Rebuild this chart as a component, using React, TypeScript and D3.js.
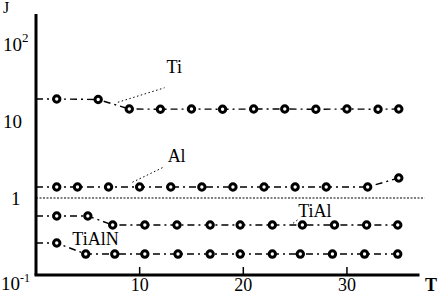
import * as React from 'react';
import {useEffect, useRef} from 'react';
import * as d3 from 'd3';

const width = 439;
const height = 295;

// time values (T) for each series
const tiT = [2, 6, 9, 12, 15, 18, 21, 24, 27, 30, 33, 35];
const tiJ = [19.3, 19, 14.3, 14.2, 14.3, 14.2, 14.3, 14.3, 14.2, 14.3, 14.2, 14.3];

const alT = [2, 4, 7, 10, 13, 16, 19, 22, 25, 28, 32, 35];
const alJ = [1.39, 1.39, 1.39, 1.39, 1.39, 1.39, 1.39, 1.39, 1.39, 1.39, 1.39, 1.82];

const tialT = [2, 5, 7.4, 10.5, 13.6, 16.8, 19.7, 22.8, 25.7, 28.8, 31.9, 34.9];
const tialJ = [0.584, 0.584, 0.446, 0.446, 0.446, 0.446, 0.446, 0.446, 0.446, 0.446, 0.446, 0.446];

const tialnT = [2, 4.8, 7.6, 10.5, 13.7, 16.8, 19.7, 22.8, 25.5, 28.6, 31.7, 34.9];
const tialnJ = [0.26, 0.187, 0.187, 0.187, 0.187, 0.187, 0.187, 0.187, 0.187, 0.187, 0.187, 0.187];

const xTicks = [10, 20, 30];
const yTicks = [1, 10, 100];

const series = [
  {name: 'Ti', t: tiT, j: tiJ},
  {name: 'Al', t: alT, j: alJ},
  {name: 'TiAl', t: tialT, j: tialJ},
  {name: 'TiAlN', t: tialnT, j: tialnJ},
];

// label anchor [T, J] and leader line [from, to] in data units
const labels = [
  {text: 'Ti', at: [12.6, 42], leader: [[7.9, 17.5], [12.4, 27]]},
  {text: 'Al', at: [12.7, 2.94], leader: [[9.3, 1.6], [12.4, 2.55]]},
  {text: 'TiAl', at: [25.3, 0.566], leader: [[24.8, 0.47], [25.4, 0.54]]},
  {text: 'TiAlN', at: [3.5, 0.245], leader: null},
];

const serif = '"Liberation Serif", "Times New Roman", "DejaVu Serif", serif';

export default function App() {
  const ref = useRef<SVGSVGElement>(null);

  useEffect(() => {
    const svg = d3.select(ref.current);
    svg.selectAll('*').remove();
    svg.attr('font-family', serif);

    const x = d3.scaleLinear().domain([0, 37]).range([36, 419.5]);
    const y = d3.scaleLog().domain([0.1, 245]).range([275, 14]);

    // dotted reference line at J = 1
    svg.append('line')
      .attr('x1', x(0)).attr('x2', x(37.5))
      .attr('y1', y(1)).attr('y2', y(1))
      .attr('stroke', '#000').attr('stroke-width', 1)
      .attr('stroke-dasharray', '2,1.5');

    const line = d3.line<[number, number]>()
      .x(d => x(d[0]))
      .y(d => y(d[1]));

    series.forEach(s => {
      const pts: [number, number][] = s.t.map((t, i) => [t, s.j[i]]);
      // curves start at the axis
      const path: [number, number][] = [[0, s.j[0]], ...pts];
      svg.append('path')
        .attr('d', line(path))
        .attr('fill', 'none')
        .attr('stroke', '#000')
        .attr('stroke-width', 1.4)
        .attr('stroke-dasharray', '7,4,2,4');

      svg.append('g')
        .selectAll('circle')
        .data(pts)
        .join('circle')
        .attr('cx', d => x(d[0]))
        .attr('cy', d => y(d[1]))
        .attr('r', 3.2)
        .attr('fill', '#fff')
        .attr('stroke', '#000')
        .attr('stroke-width', 3);
    });

    // axes
    svg.append('line')
      .attr('x1', x(0)).attr('x2', x(0))
      .attr('y1', y(245)).attr('y2', y(0.1))
      .attr('stroke', '#000').attr('stroke-width', 3);
    svg.append('line')
      .attr('x1', x(0) - 1.5).attr('x2', x(37))
      .attr('y1', y(0.1)).attr('y2', y(0.1))
      .attr('stroke', '#000').attr('stroke-width', 3);

    svg.append('g')
      .selectAll('line')
      .data(xTicks)
      .join('line')
      .attr('x1', d => x(d)).attr('x2', d => x(d))
      .attr('y1', y(0.1) - 8).attr('y2', y(0.1))
      .attr('stroke', '#000').attr('stroke-width', 1.5);

    svg.append('g')
      .selectAll('text')
      .data(xTicks)
      .join('text')
      .attr('x', d => x(d))
      .attr('y', y(0.1) + 16)
      .attr('text-anchor', 'middle')
      .attr('font-size', 18)
      .text(d => d);

    // y tick labels
    const yl = svg.append('g').attr('font-size', 19);
    yTicks.forEach(v => {
      const exp = Math.round(Math.log10(v));
      const t = yl.append('text')
        .attr('x', 3)
        .attr('y', y(v) + 7);
      if (exp === 0) {
        t.attr('x', 11).text('1');
      } else if (exp === 1) {
        t.text('10');
      } else {
        t.text('10');
        t.append('tspan').attr('dy', -9).attr('font-size', 13).text(String(exp));
      }
    });
    const low = yl.append('text').attr('x', 1).attr('y', y(0.1) + 15).text('10');
    low.append('tspan').attr('dy', -8).attr('font-size', 12).text('-1');

    // axis names
    svg.append('text')
      .attr('x', 3).attr('y', 13)
      .attr('font-size', 16)
      .text('J');
    svg.append('text')
      .attr('x', 425).attr('y', y(0.1) + 16)
      .attr('font-size', 18)
      .attr('font-weight', 'bold')
      .text('T');

    // series labels and leaders
    labels.forEach(l => {
      svg.append('text')
        .attr('x', x(l.at[0]))
        .attr('y', y(l.at[1]))
        .attr('font-size', 18)
        .text(l.text);
      if (l.leader) {
        svg.append('line')
          .attr('x1', x(l.leader[0][0])).attr('y1', y(l.leader[0][1]))
          .attr('x2', x(l.leader[1][0])).attr('y2', y(l.leader[1][1]))
          .attr('stroke', '#000').attr('stroke-width', 1)
          .attr('stroke-dasharray', '1.5,2.5');
      }
    });
  }, []);

  return (
    <svg ref={ref} width={width} height={height}
      style={{position: 'absolute', left: 0, top: 0, background: '#fff'}}/>
  );
}
